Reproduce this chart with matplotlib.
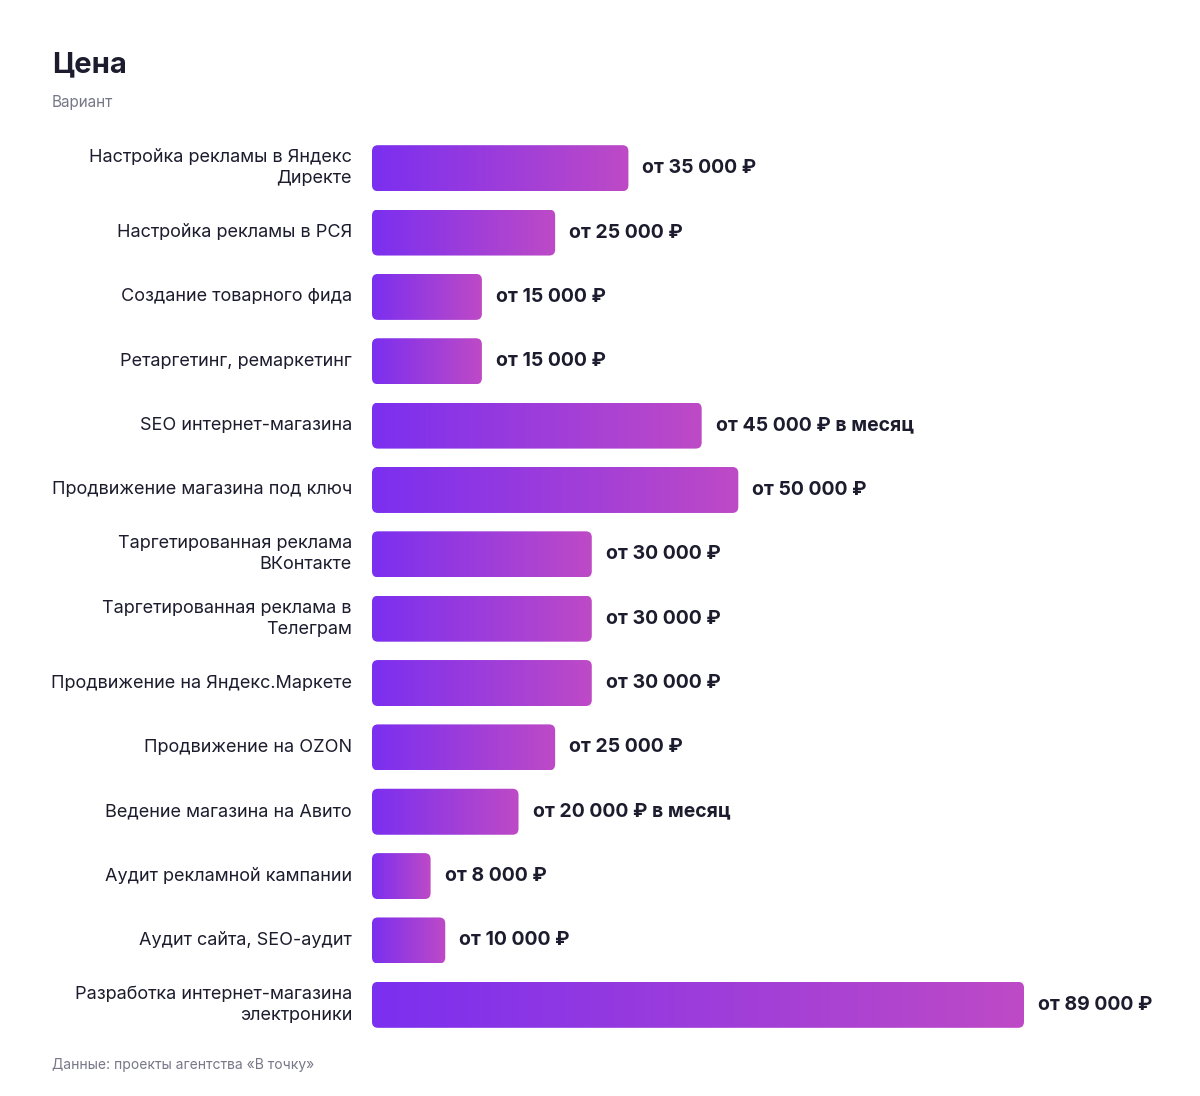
import numpy as np
import matplotlib.pyplot as plt
from matplotlib.patches import FancyBboxPatch
from matplotlib.colors import LinearSegmentedColormap

plt.rcParams['font.family'] = ['Inter', 'DejaVu Sans']

services = [
    "Настройка рекламы в Яндекс\nДиректе",
    "Настройка рекламы в РСЯ",
    "Создание товарного фида",
    "Ретаргетинг, ремаркетинг",
    "SEO интернет-магазина",
    "Продвижение магазина под ключ",
    "Таргетированная реклама\nВКонтакте",
    "Таргетированная реклама в\nТелеграм",
    "Продвижение на Яндекс.Маркете",
    "Продвижение на OZON",
    "Ведение магазина на Авито",
    "Аудит рекламной кампании",
    "Аудит сайта, SEO-аудит",
    "Разработка интернет-магазина\nэлектроники",
]
prices = [35000, 25000, 15000, 15000, 45000, 50000, 30000, 30000, 30000, 25000, 20000, 8000, 10000, 89000]
price_labels = [
    "от 35 000 ₽", "от 25 000 ₽", "от 15 000 ₽", "от 15 000 ₽",
    "от 45 000 ₽ в месяц", "от 50 000 ₽", "от 30 000 ₽", "от 30 000 ₽",
    "от 30 000 ₽", "от 25 000 ₽", "от 20 000 ₽ в месяц", "от 8 000 ₽",
    "от 10 000 ₽", "от 89 000 ₽",
]

W, H = 1200, 1096
fig = plt.figure(figsize=(W / 100, H / 100), dpi=100)
left_px, right_px, top_px, bot_px = 372, 1200, 136, 1037
ax = fig.add_axes([left_px / W, 1 - bot_px / H, (right_px - left_px) / W, (bot_px - top_px) / H])
xmax = 89000 * (right_px - left_px) / (1024 - left_px)
n = len(prices)
ax.set_xlim(0, xmax)
ax.set_ylim(n - 0.5, -0.5)
ax.axis('off')

xpp = xmax / (right_px - left_px)
ypp = n / (bot_px - top_px)
cmap = LinearSegmentedColormap.from_list('g', ['#7B2FF0', '#BE4AC6'])
grad = np.linspace(0, 1, 256).reshape(1, -1)
bh = 46 * ypp

for i, (p, lab) in enumerate(zip(prices, price_labels)):
    patch = FancyBboxPatch((0, i - bh / 2), p, bh,
                           boxstyle=f"round,pad=0,rounding_size={6 * xpp}",
                           mutation_aspect=ypp / xpp, fc='none', ec='none')
    ax.add_patch(patch)
    im = ax.imshow(grad, cmap=cmap, aspect='auto',
                   extent=(0, p, i + bh / 2, i - bh / 2), zorder=2)
    im.set_clip_path(patch)
    ax.text(p + 14 * xpp, i, lab, fontsize=14, fontweight='bold',
            color='#1c1c2e', va='center', ha='left')
    ax.text(-20 * xpp, i, services[i], fontsize=13, color='#1c1c2e',
            va='center', ha='right', linespacing=1.3)

fig.text(52 / W, 1 - 65 / H, "Цена", fontsize=21, fontweight='bold', color='#1c1c2e', va='center')
fig.text(52 / W, 1 - 102 / H, "Вариант", fontsize=11, color='#777788', va='center')
fig.text(52 / W, 1 - 1065 / H, "Данные: проекты агентства «В точку»", fontsize=10, color='#777788', va='center')

fig.savefig('out.png', dpi=100, facecolor='white')
